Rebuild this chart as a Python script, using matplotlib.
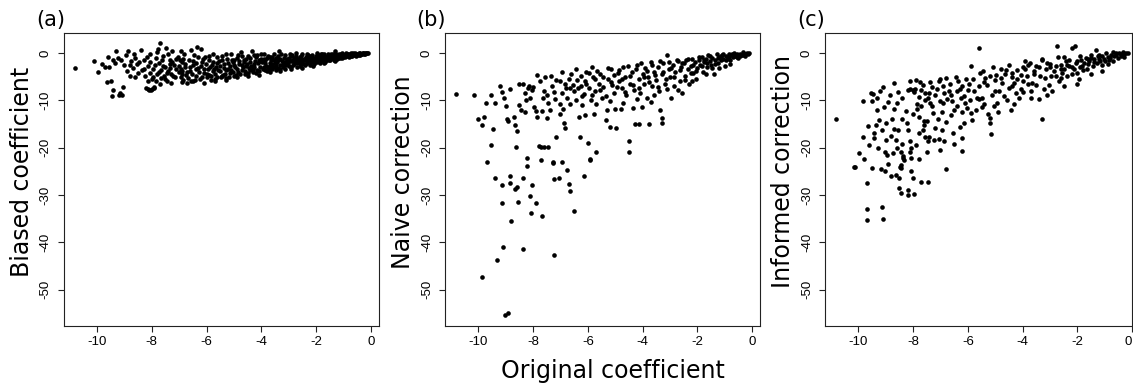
import numpy as np
import matplotlib
matplotlib.use("Agg")
import matplotlib.pyplot as plt

plt.rcParams["axes.unicode_minus"] = False

# (original coefficient, biased coefficient)
biased = np.array([
    (-10.8, -3.2), (-10.1, -1.8), (-9.95, -4.1), (-9.8, -2.3), (-9.7, -2.9), (-9.65, -6.2),
    (-9.5, -6.0), (-9.45, -9.2), (-9.4, -7.8), (-9.3, 0.4), (-9.25, -1.1), (-9.2, -9.0),
    (-9.15, -8.4), (-9.1, -8.9), (-9.05, -7.2), (-9.0, -2.5), (-8.95, -0.5), (-8.9, -3.8),
    (-8.85, 0.3), (-8.8, -4.8), (-8.75, -1.7), (-8.7, -3.2), (-8.65, -0.2), (-8.6, -5.2),
    (-8.55, -2.4), (-8.5, -4.3), (-9.6, -0.8), (-9.4, -1.6), (-8.4, 0.6), (-8.35, -3.6),
    (-8.3, -1.5), (-8.25, -4.9), (-8.2, -7.4), (-8.15, -2.8), (-8.1, -7.8), (-8.05, -0.3),
    (-8.0, -5.6), (-7.98, -7.6), (-7.95, -3.3), (-7.9, -7.2), (-7.85, -1.0), (-7.8, -4.4),
    (-7.78, 0.8), (-7.75, -2.2), (-7.7, 2.0), (-7.68, -5.3), (-7.65, -3.6), (-7.6, -0.6),
    (-7.55, -4.8), (-7.5, -2.9), (-7.48, 1.0), (-7.45, -6.0), (-7.4, -3.9), (-7.35, -1.5),
    (-7.3, -4.5), (-7.25, 0.3), (-7.2, -2.5), (-7.15, -5.2), (-7.1, -3.4), (-7.05, -0.8),
    (-7.0, -4.1), (-6.95, 0.4), (-6.9, -2.0), (-6.85, -5.7), (-6.8, -3.0), (-6.75, -4.6),
    (-6.7, -6.3), (-6.65, -1.4), (-6.6, -3.8), (-6.55, -6.0), (-6.5, -2.6), (-6.45, -0.4),
    (-6.4, -4.9), (-6.35, 1.2), (-6.3, -3.2), (-6.25, -5.5), (-6.2, 0.8), (-6.15, -2.0),
    (-6.1, -4.2), (-6.05, -0.9), (-6.0, -5.0), (-6.95, -3.4), (-7.25, -2.0), (-7.6, -2.7),
    (-8.05, -4.2), (-7.85, -5.9), (-7.35, -3.1), (-6.85, -1.2), (-6.4, -3.5), (-6.9, -4.4),
    (-7.45, -4.2), (-7.95, -5.0), (-8.12, -7.7), (-8.02, -7.9), (-7.92, -7.5),
    (-5.95, -3.4), (-5.9, -1.5), (-5.85, -5.8), (-5.8, -2.6), (-5.75, -0.3), (-5.7, -4.4),
    (-5.65, -3.0), (-5.6, -5.2), (-5.55, -1.8), (-5.5, -3.8), (-5.45, -0.6), (-5.4, -4.7),
    (-5.35, -2.4), (-5.3, -5.4), (-5.25, -1.2), (-5.2, -3.3), (-5.15, -4.2), (-5.1, -0.2),
    (-5.05, -2.0), (-5.0, -4.8), (-4.95, -3.0), (-4.9, -1.0), (-4.85, -4.0), (-4.8, -2.3),
    (-4.75, 0.1), (-4.7, -3.6), (-4.65, -1.5), (-4.6, -4.5), (-4.55, -2.8), (-4.5, -0.7),
    (-4.45, -3.2), (-4.4, -1.9), (-4.35, 0.3), (-4.3, -4.1), (-4.25, -2.4), (-4.2, -0.9),
    (-4.15, -3.6), (-4.1, -1.5), (-4.05, -2.9), (-4.0, -0.2), (-5.9, -4.6), (-5.6, -2.2),
    (-5.3, -3.6), (-5.0, -1.4), (-4.7, -2.6), (-4.4, -3.7), (-4.15, -0.4), (-5.75, -3.9),
    (-5.45, -4.9), (-5.15, -2.8), (-4.85, -0.5), (-4.55, -1.2), (-4.25, -3.0), (-4.05, -1.8),
    (-3.95, -3.3), (-3.9, -1.2), (-3.85, -2.2), (-3.8, -3.9), (-3.75, -0.6), (-3.7, -2.7),
    (-3.65, -1.6), (-3.6, -3.5), (-3.55, -0.2), (-3.5, -2.1), (-3.45, -1.1), (-3.4, -3.2),
    (-3.35, 0.4), (-3.3, -2.5), (-3.25, -1.7), (-3.2, -3.0), (-3.15, -0.5), (-3.1, -2.0),
    (-3.05, -1.2), (-3.0, -2.8), (-2.95, -0.3), (-2.9, -1.8), (-2.85, -2.6), (-2.8, -1.0),
    (-2.75, -0.1), (-2.7, -2.2), (-2.65, -1.5), (-2.6, -2.7), (-2.55, -0.6), (-2.5, -1.9),
    (-2.45, -1.2), (-2.4, -2.3), (-2.35, -0.2), (-2.3, -1.6), (-2.25, -0.9), (-2.2, -2.0),
    (-2.15, -0.4), (-2.1, -1.4), (-2.05, -1.9), (-2.0, -0.7), (-3.9, -2.9), (-3.7, -0.9),
    (-3.5, -3.0), (-3.3, -1.2), (-3.1, -2.6), (-2.9, -0.7), (-2.7, -1.3), (-2.5, -2.4),
    (-2.3, -0.5), (-2.1, -1.0), (-3.85, -1.5), (-3.6, -2.4), (-3.4, -0.6), (-3.2, -1.9),
    (-3.0, -1.5), (-2.8, -2.0), (-2.6, -0.9), (-2.4, -1.5), (-2.2, -1.2), (-3.75, -3.0),
    (-3.45, -2.5), (-3.15, -2.2), (-2.85, -1.4), (-2.55, -1.6), (-2.25, -1.8),
    (-1.95, -1.3), (-1.9, -0.4), (-1.85, -1.8), (-1.8, -0.9), (-1.75, -1.5), (-1.7, -0.2),
    (-1.65, -1.1), (-1.6, -1.6), (-1.55, -0.6), (-1.5, -1.2), (-1.45, -0.3), (-1.4, -0.9),
    (-1.35, -1.4), (-1.3, 0.5), (-1.25, -0.7), (-1.2, -1.1), (-1.15, -0.2), (-1.1, -0.8),
    (-1.05, -1.0), (-1.0, -0.4), (-0.95, -0.7), (-0.9, -0.1), (-0.85, -0.6), (-0.8, -0.9),
    (-0.75, -0.3), (-0.7, -0.5), (-0.65, 0.0), (-0.6, -0.4), (-0.55, -0.6), (-0.5, -0.2),
    (-0.45, -0.4), (-0.4, 0.0), (-0.35, -0.3), (-0.3, -0.1), (-0.25, -0.2), (-0.2, 0.0),
    (-0.15, -0.1), (-0.1, 0.0), (-1.92, -0.8), (-1.82, -1.2), (-1.72, -0.6), (-1.62, -0.9),
    (-1.52, -1.5), (-1.42, -0.6), (-1.32, -1.0), (-1.22, -0.4), (-1.12, -0.5), (-1.02, -0.7),
    (-0.92, -0.4), (-0.82, -0.2), (-0.72, -0.7), (-0.62, -0.2), (-0.52, -0.4), (-0.42, -0.2),
    (-1.97, -0.1), (-1.87, -2.1), (-1.77, -0.3), (-1.67, -1.9), (-1.57, -1.0), (-1.47, -0.8),
    (-1.37, -0.2), (-1.27, -1.3), (-1.17, -0.9), (-1.07, -0.1),
    (-6.98, -1.6), (-6.92, -5.1), (-6.88, -3.8), (-6.82, -0.2), (-6.78, -2.4), (-6.72, -4.0),
    (-6.68, -5.3), (-6.62, -2.9), (-6.58, 0.6), (-6.52, -4.4), (-6.48, -1.8), (-6.42, -5.8),
    (-6.38, -2.2), (-6.32, -0.8), (-6.28, -4.0), (-6.22, -2.7), (-6.18, -5.0), (-6.12, -1.2),
    (-6.08, -3.5), (-6.02, -2.3), (-5.98, -4.5), (-5.92, -0.6), (-5.88, -3.0), (-5.82, -4.9),
    (-5.78, -1.9), (-5.72, -3.3), (-5.68, -5.6), (-5.62, -0.9), (-5.58, -3.6), (-5.52, -2.7),
    (-5.48, -5.1), (-5.42, -1.4), (-5.38, -3.1), (-5.32, -4.4), (-5.28, -0.2), (-5.22, -2.2),
    (-5.18, -5.0), (-5.12, -3.7), (-5.08, -1.6), (-5.02, -4.1), (-4.98, -2.5), (-4.92, -4.6),
    (-4.88, -3.4), (-4.82, -1.7), (-4.78, -4.4), (-4.72, -0.6), (-4.68, -3.0), (-4.62, -2.0),
    (-4.58, -3.9), (-4.52, -2.4), (-4.48, -4.2), (-4.42, -1.1), (-4.38, -2.7), (-4.32, -3.4),
    (-4.28, -0.5), (-4.22, -1.8), (-4.18, -4.3), (-4.12, -2.2), (-4.08, -3.9), (-4.02, -1.2),
    (-3.98, -2.0), (-3.92, -0.2), (-3.88, -3.6), (-3.82, -2.7), (-3.78, -1.0), (-3.72, -3.4),
    (-3.68, -2.1), (-3.62, -0.9), (-3.58, -2.9), (-3.52, -1.5), (-3.48, -3.7), (-3.42, -2.0),
    (-3.38, -1.4), (-3.32, -3.4), (-3.28, -0.3), (-3.22, -2.5), (-3.18, -1.1), (-3.12, -3.3),
    (-3.08, -1.6), (-3.02, -2.2), (-2.98, -1.1), (-2.92, -2.9), (-2.88, -0.5), (-2.82, -2.4),
    (-2.78, -1.6), (-2.72, -0.7), (-2.68, -2.9), (-2.62, -1.2), (-2.58, -2.1), (-2.52, -0.3),
    (-2.48, -1.5), (-2.42, -2.6), (-2.38, -0.9), (-2.32, -2.1), (-2.28, -1.3), (-2.22, -2.5),
    (-2.18, -0.7), (-2.12, -1.7), (-2.08, -2.3), (-2.02, -1.1), (-1.98, -1.9), (-1.93, -0.6),
    (-1.88, -1.4), (-1.83, -0.3), (-1.78, -1.2), (-1.73, -1.8), (-1.68, -0.8), (-1.63, -1.3),
    (-1.58, -0.3), (-1.53, -1.0), (-1.48, -1.6), (-1.43, -1.1), (-1.38, -0.5), (-1.33, -0.9),
    (-1.28, -0.2), (-1.23, -1.2), (-1.18, -0.6), (-1.13, -1.0), (-1.08, -0.3), (-1.03, -0.9),
    (-0.98, -0.5), (-0.93, -0.9), (-0.88, -0.3), (-0.83, -0.7), (-0.78, -0.5), (-0.73, -0.1),
    (-0.68, -0.6), (-0.63, -0.3), (-0.58, -0.1), (-0.53, -0.5), (-0.48, -0.3), (-0.43, -0.1),
    (-0.38, -0.4), (-0.33, -0.2), (-0.28, 0.0), (-0.23, -0.3), (-0.18, -0.1),
    (-8.28, -3.5), (-8.18, -0.8), (-8.08, -2.0), (-7.88, -2.6), (-7.82, 0.2), (-7.72, -4.0),
    (-7.62, -1.5), (-7.52, -5.5), (-7.42, -0.2), (-7.32, -2.3), (-7.22, -4.8), (-7.12, -1.2),
    (-7.02, -2.8), (-8.45, -2.0), (-8.6, -1.0), (-8.78, -2.6), (-9.12, -1.5), (-9.35, -2.2),
    (-9.55, -3.0), (-8.15, -6.0), (-7.7, -6.5), (-7.3, -6.3), (-6.9, -6.2), (-6.5, -5.9),
    (-6.1, -6.3), (-5.7, -6.0), (-5.3, -5.7), (-4.9, -5.2), (-4.5, -4.8), (-4.1, -4.6),
    (-3.7, -4.1), (-3.3, -3.9), (-2.9, -3.5), (-2.5, -3.1), (-2.1, -2.7), (-1.7, -2.2),
    (-1.3, -1.7),
])

# (original coefficient, naive correction)
naive = np.array([
    (-10.82, -8.7), (-10.16, -8.9), (-10.0, -13.9), (-9.78, -13.5), (-9.85, -15.2), (-9.7, -10.6),
    (-9.55, -9.0), (-9.4, -10.6), (-9.54, -19.5), (-9.69, -23.0), (-9.45, -16.0), (-9.2, -7.0),
    (-9.15, -8.3), (-9.05, -9.6), (-8.95, -13.9), (-8.9, -14.3), (-9.0, -11.2), (-8.85, -7.7),
    (-8.7, -13.5), (-8.65, -15.2), (-8.6, -16.5), (-8.64, -19.9), (-8.5, -11.0), (-8.45, -12.0),
    (-8.5, -6.5), (-8.35, -6.5), (-8.3, -8.5), (-8.25, -10.0), (-8.2, -7.5), (-8.15, -7.0),
    (-8.05, -7.8), (-8.0, -7.2), (-7.95, -11.5), (-7.9, -12.3), (-7.85, -13.5), (-7.8, -19.6),
    (-7.7, -19.8), (-7.6, -19.9), (-7.68, -12.2), (-7.85, -4.6), (-7.75, -6.0), (-7.6, -8.0),
    (-7.5, -9.0), (-7.45, -10.5), (-7.44, -19.9), (-7.37, -12.0), (-7.3, -7.0), (-7.25, -8.2),
    (-7.15, -17.8), (-7.03, -10.7), (-7.0, -6.0), (-6.95, -8.5), (-6.89, -11.8), (-6.86, -14.8),
    (-6.83, -15.8), (-6.8, -7.5), (-6.75, -9.5), (-6.7, -5.5), (-6.6, -4.5), (-6.55, -6.8),
    (-6.5, -8.0), (-6.45, -10.0), (-6.4, -5.8), (-6.34, -13.5), (-6.3, -17.7), (-6.25, -7.0),
    (-6.2, -9.2), (-6.12, -13.2), (-6.1, -6.0), (-6.05, -4.0), (-6.0, -19.0), (-5.95, -7.5),
    (-5.9, -10.0), (-5.85, -3.0), (-5.8, -5.2), (-5.79, -13.0), (-5.75, -8.0), (-5.69, -20.9),
    (-5.6, -6.5), (-5.55, -4.5), (-5.5, -9.5), (-5.45, -7.2), (-5.34, -14.1), (-5.3, -12.0),
    (-5.25, -5.5), (-5.2, -15.6), (-5.15, -3.5), (-5.1, -6.8), (-5.05, -8.5), (-5.02, -11.8),
    (-4.96, -15.8), (-4.9, -4.2), (-4.85, -6.0), (-4.8, -11.8), (-4.75, -7.5), (-4.7, -3.0),
    (-4.65, -5.0), (-4.6, -9.0), (-4.51, -18.7), (-4.51, -20.9), (-4.45, -6.5), (-4.4, -4.0),
    (-4.36, -11.6), (-4.3, -7.8), (-4.26, -15.1), (-4.2, -2.5), (-4.15, -5.5), (-4.14, -15.0),
    (-4.1, -8.5), (-4.04, -11.4), (-4.0, -4.5), (-3.95, -6.5), (-3.9, -3.2), (-3.85, -9.5),
    (-3.8, -5.0), (-3.77, -15.0), (-3.71, -10.4), (-3.7, -2.0), (-3.65, -7.0), (-3.6, -4.0),
    (-3.5, -5.8), (-3.45, -3.0), (-3.4, -8.0), (-3.37, -12.0), (-3.3, -4.5), (-3.28, -13.7),
    (-3.28, -14.9), (-3.25, -2.2), (-3.2, -6.5), (-3.1, -0.5), (-3.05, -3.5), (-3.0, -5.0),
    (-2.95, -9.5), (-2.9, -2.5), (-2.85, -7.0), (-2.8, -4.0), (-2.7, -1.8), (-2.65, -6.0),
    (-2.6, -3.0), (-2.55, -8.5), (-2.5, -2.2), (-2.45, -4.8), (-2.4, -1.5), (-2.35, -3.5),
    (-2.3, -6.5), (-2.25, -2.8), (-2.2, -1.2), (-2.15, -4.2), (-2.1, -2.0), (-2.05, -5.5),
    (-2.0, -3.2), (-1.95, -1.5), (-1.9, -2.5), (-1.85, -0.8), (-1.8, -4.0), (-1.75, -2.0),
    (-1.7, -1.2), (-1.65, -3.0), (-1.6, -0.5), (-1.55, -1.8), (-1.5, -2.5), (-1.45, -1.0),
    (-1.4, -4.5), (-1.35, -1.5), (-1.3, -0.3), (-1.25, -2.2), (-1.2, -0.9), (-1.15, -1.6),
    (-1.1, -0.4), (-1.05, -1.2), (-1.0, -2.8), (-0.95, -0.6), (-0.9, -1.0), (-0.85, -0.2),
    (-0.8, -1.4), (-0.75, -0.5), (-0.7, -0.9), (-0.65, -0.1), (-0.6, -0.7), (-0.55, -0.3),
    (-0.5, -1.1), (-0.45, -0.2), (-0.4, -0.5), (-0.35, 0.1), (-0.3, -0.3), (-0.25, -0.6),
    (-0.2, 0.0), (-0.15, -0.2), (-0.1, -0.1),
    (-6.45, -3.5), (-6.35, -7.5), (-6.25, -4.8), (-6.15, -8.6), (-6.05, -6.5), (-5.95, -4.2),
    (-5.85, -8.8), (-5.75, -5.6), (-5.65, -3.8), (-5.55, -7.8), (-5.45, -5.0), (-5.35, -9.2),
    (-5.25, -3.2), (-5.15, -6.2), (-5.05, -4.6), (-4.95, -7.2), (-4.85, -3.6), (-4.75, -5.6),
    (-4.65, -8.2), (-4.55, -2.8), (-4.45, -4.9), (-4.35, -6.8), (-4.25, -3.4), (-4.15, -7.5),
    (-4.05, -2.2), (-3.95, -5.0), (-3.85, -3.8), (-3.75, -6.2), (-3.65, -2.6), (-3.55, -4.6),
    (-3.45, -7.2), (-3.35, -1.8), (-3.25, -4.0), (-3.15, -5.6), (-3.05, -2.0), (-2.95, -3.2),
    (-2.85, -5.2), (-2.75, -1.4), (-2.65, -3.6), (-2.55, -2.2), (-2.45, -5.8), (-2.35, -1.2),
    (-2.25, -4.2), (-2.15, -2.6), (-2.05, -3.8), (-1.95, -0.8), (-1.85, -2.8), (-1.75, -1.4),
    (-1.65, -2.2), (-1.55, -0.6), (-1.45, -3.2), (-1.35, -2.3), (-1.25, -1.0), (-1.15, -0.6),
    (-1.05, -0.3), (-0.95, -1.4), (-0.85, -0.9), (-0.75, -0.2), (-0.65, -0.6), (-0.55, -0.8),
    (-0.45, -0.6), (-0.35, -0.4), (-0.25, -0.2),
    (-7.55, -5.2), (-7.35, -4.8), (-7.15, -5.8), (-6.95, -4.0), (-6.85, -6.5), (-6.65, -7.5),
    (-7.65, -9.5), (-7.2, -9.8), (-8.1, -9.5), (-8.3, -12.5), (-7.5, -13.8), (-7.0, -13.0),
    (-6.65, -10.8), (-6.2, -11.0), (-5.7, -10.8), (-5.2, -10.2), (-4.7, -10.5), (-4.2, -9.8),
    (-3.6, -8.8), (-3.1, -7.6), (-2.7, -7.8), (-2.2, -6.0), (-1.7, -4.5), (-1.2, -3.2),
    (-0.8, -2.4),
    (-9.02, -55.3), (-8.9, -54.9), (-9.85, -47.3), (-9.3, -43.8), (-9.08, -41.1), (-8.38, -41.5),
    (-7.22, -42.8), (-8.82, -35.6), (-7.66, -34.5), (-8.06, -33.8), (-6.52, -33.3), (-9.12, -31.8),
    (-8.55, -31.4), (-7.91, -31.8), (-8.11, -30.2), (-6.64, -29.1), (-8.66, -28.8), (-8.6, -28.3),
    (-8.03, -27.9), (-9.13, -27.9), (-8.83, -27.4), (-6.69, -27.7), (-9.4, -26.4), (-8.35, -26.4),
    (-7.22, -26.7), (-7.05, -26.4), (-6.75, -24.8), (-6.15, -26.1), (-8.83, -26.1), (-8.23, -23.8),
    (-7.27, -23.0), (-6.95, -23.0), (-7.72, -22.6), (-5.92, -22.7), (-8.21, -22.2), (-7.28, -23.2),
    (-5.91, -22.5),
])

# (original coefficient, informed correction)
informed = np.array([
    (-10.15, -24.2), (-9.51, -24.3), (-9.17, -24.6), (-9.02, -25.0), (-9.67, -27.5), (-8.82, -26.1),
    (-8.63, -25.8), (-8.53, -26.5), (-8.45, -24.3), (-8.33, -22.7), (-7.8, -22.5), (-8.07, -24.9),
    (-8.01, -26.5), (-7.7, -27.3), (-7.44, -27.3), (-6.8, -24.5), (-8.5, -28.5), (-8.45, -29.6),
    (-8.17, -28.9), (-8.19, -30.1), (-7.97, -29.8), (-9.69, -32.9), (-9.15, -32.5), (-9.69, -35.3),
    (-9.11, -35.1),
    (-10.82, -13.9), (-9.82, -10.2), (-9.51, -10.1), (-9.54, -8.5), (-9.45, -8.7), (-9.11, -7.3),
    (-9.21, -8.1), (-9.33, -9.5), (-9.66, -15.4), (-9.84, -17.8), (-9.96, -21.1), (-10.12, -24.1),
    (-9.41, -17.0), (-9.41, -17.9), (-9.27, -20.1), (-9.26, -14.1), (-9.35, -15.3), (-9.13, -16.2),
    (-8.99, -14.9), (-8.9, -10.4), (-8.82, -17.5), (-8.78, -13.9), (-8.68, -16.1), (-8.56, -16.2),
    (-8.58, -10.6), (-8.63, -18.5), (-9.02, -20.9), (-8.94, -21.5), (-8.74, -21.1), (-8.6, -20.1),
    (-8.44, -21.0), (-8.38, -22.2), (-8.35, -21.7), (-8.45, -23.6), (-8.47, -24.2), (-8.08, -22.3),
    (-8.11, -20.9), (-8.07, -20.1), (-8.11, -18.7), (-8.25, -12.2), (-8.21, -14.9), (-8.19, -16.2),
    (-8.11, -6.0), (-8.11, -7.7), (-8.0, -7.9), (-7.92, -7.6), (-7.84, -10.9), (-7.8, -9.3),
    (-7.64, -16.2), (-7.59, -14.4), (-7.5, -14.3), (-7.56, -17.8), (-7.44, -18.7), (-7.41, -17.8),
    (-7.78, -13.6), (-7.7, -11.3), (-7.64, -6.7), (-7.58, -8.5), (-7.45, -9.5), (-7.37, -6.1),
    (-7.41, -8.5), (-7.31, -11.3), (-7.28, -12.7), (-7.25, -18.3), (-7.07, -6.0), (-7.07, -18.1),
    (-7.1, -13.9), (-6.95, -16.2), (-6.89, -18.7), (-7.13, -7.7), (-7.03, -10.2), (-6.89, -8.5),
    (-6.8, -5.3), (-6.77, -9.7), (-6.64, -6.5), (-6.58, -10.2), (-6.54, -16.9), (-6.5, -19.2),
    (-6.5, -12.0), (-6.4, -11.3), (-6.4, -8.1), (-6.3, -7.6), (-6.21, -7.0), (-6.15, -9.2),
    (-6.15, -14.8), (-6.21, -20.8), (-6.08, -5.6), (-6.03, -11.6), (-5.97, -6.5), (-5.91, -9.9),
    (-5.85, -14.1), (-5.79, -8.1), (-5.67, -9.5), (-5.7, -12.0), (-5.58, 1.1), (-5.48, -9.5),
    (-5.45, -3.9), (-5.54, -4.2), (-5.36, -5.3), (-5.3, -6.7), (-5.27, -13.0), (-5.2, -13.7),
    (-5.18, -14.8), (-5.14, -17.1), (-5.12, -8.8), (-5.05, -11.3), (-4.93, -10.6), (-4.96, -4.6),
    (-4.87, -8.1), (-4.75, -6.3), (-4.69, -9.2), (-4.66, -4.4), (-4.57, -9.9), (-4.51, -7.4),
    (-4.42, -12.1), (-4.38, -4.2), (-4.32, -6.3), (-4.26, -8.5), (-4.2, -3.7), (-4.14, -9.5),
    (-4.08, -7.7), (-4.05, -4.6), (-3.98, -6.0), (-3.93, -3.4), (-3.83, -4.9), (-3.74, -2.1),
    (-3.71, -9.5), (-3.65, -6.3), (-3.59, -3.9), (-3.53, -2.8), (-3.41, -9.7), (-3.37, -4.9),
    (-3.28, -13.9), (-3.22, -7.7), (-3.16, -3.5), (-3.1, -2.1), (-3.04, -6.7), (-2.98, -4.9),
    (-2.92, -8.1), (-2.86, -3.9), (-2.8, -2.8), (-2.74, 1.5), (-2.67, -6.0), (-2.61, -2.5),
    (-2.55, -4.2), (-2.49, -3.5), (-2.43, -1.8), (-2.37, -4.9), (-2.31, -2.8), (-2.19, 1.1),
    (-2.1, 1.4), (-2.12, -3.4), (-2.06, -2.1), (-2.0, -4.2), (-1.94, -5.6), (-1.88, -1.4),
    (-1.82, -2.8), (-1.76, -2.1), (-1.7, -1.1), (-1.64, -3.5), (-1.58, -1.8), (-1.51, -0.4),
    (-1.45, -2.7), (-1.39, -1.3), (-1.33, 0.6), (-1.29, -2.1), (-1.25, -0.7), (-1.17, -1.8),
    (-1.11, -3.9), (-1.09, -0.6), (-1.03, -1.3), (-0.96, -0.1), (-0.9, -0.8), (-0.84, -1.5),
    (-0.78, -0.4), (-0.72, 0.1), (-0.66, -0.7), (-0.6, -0.1), (-0.54, -1.1), (-0.48, 0.0),
    (-0.42, -0.6), (-0.35, 0.1), (-0.29, -0.3), (-0.23, -0.1), (-0.17, 0.0),
    (-8.2, -7.9), (-7.95, -8.2), (-7.9, -5.8), (-7.75, -6.2), (-7.7, -7.8), (-7.55, -9.9),
    (-7.3, -7.3), (-7.2, -8.8), (-7.0, -5.6), (-6.9, -7.0), (-6.7, -8.0), (-6.6, -9.0),
    (-6.45, -5.0), (-6.35, -6.0), (-6.25, -9.6), (-6.1, -10.5), (-7.85, -11.8), (-7.4, -10.5),
    (-6.95, -12.5), (-8.4, -9.6), (-8.55, -8.3), (-8.7, -6.3), (-8.85, -8.8), (-9.05, -11.4),
    (-8.0, -13.0), (-7.6, -15.2), (-7.2, -15.8), (-6.8, -14.5), (-6.2, -12.5), (-5.6, -7.0),
    (-5.4, -10.8), (-5.0, -5.8), (-4.8, -3.5), (-4.4, -5.2), (-4.0, -8.2), (-3.5, -6.8),
    (-3.0, -3.0), (-2.6, -5.3), (-2.2, -4.4), (-1.9, -3.0), (-1.6, -2.4), (-1.2, -1.2),
    (-0.9, -2.3), (-2.5, -0.8), (-3.3, -1.5), (-3.8, -2.6),
    (-6.0, -7.8), (-5.8, -5.6), (-5.6, -9.8), (-5.4, -6.2), (-5.2, -4.8), (-5.0, -8.0),
    (-4.8, -5.3), (-4.6, -3.6), (-4.4, -7.0), (-4.2, -5.5), (-4.0, -3.0), (-3.8, -6.5),
    (-3.6, -4.5), (-3.4, -3.0), (-3.2, -5.3), (-3.0, -2.4), (-2.8, -4.8), (-2.6, -3.4),
    (-2.4, -2.6), (-2.2, -3.0), (-2.0, -1.8), (-1.8, -3.6), (-1.6, -1.2), (-1.4, -2.0),
    (-1.2, -0.4), (-1.0, -1.8), (-0.8, -1.0), (-0.6, -0.5), (-0.4, -0.2), (-0.3, -0.8),
    (-5.9, -2.8), (-5.1, -3.0), (-4.5, -2.5), (-3.9, -1.8), (-3.3, -1.2), (-2.7, -0.8),
    (-2.3, -1.5), (-1.9, -0.6), (-1.5, -1.0), (-1.1, -2.5), (-0.7, -1.8), (-6.9, -10.5),
    (-6.6, -13.2), (-6.3, -15.6), (-5.9, -12.8), (-5.5, -11.5), (-4.9, -12.5), (-4.3, -10.8),
    (-3.7, -8.0), (-3.1, -9.0), (-2.5, -7.0), (-2.0, -6.5), (-1.5, -4.5), (-7.9, -19.5),
    (-7.5, -21.0), (-7.8, -17.0), (-8.4, -19.2), (-9.0, -18.5), (-9.6, -19.5), (-9.8, -22.5),
    (-8.9, -23.5), (-9.3, -12.0), (-8.7, -11.8), (-8.4, -14.0), (-7.0, -20.5), (-6.2, -18.0),
])

panels = [biased, naive, informed]
ylabels = ["Biased coefficient", "Naive correction", "Informed correction"]
tags = ["(a)", "(b)", "(c)"]
xticks = [-10, -8, -6, -4, -2, 0]
yticks = [0, -10, -20, -30, -40, -50]

W, H = 1133, 388
fig = plt.figure(figsize=(W / 100, H / 100), dpi=100)

# pixel geometry of the three boxes (left, right)
boxes = [(64.1, 379.1), (445.4, 760.4), (825.4, 1132.3)]
xlims = [(-11.2, 0.3), (-11.2, 0.3), (-11.2, 0.0)]
top, bottom = 33, 326
label_x = [22, 403, 783]
tag_x = [51, 431, 811]

for i, data in enumerate(panels):
    l, r = boxes[i]
    ax = fig.add_axes([l / W, 1 - bottom / H, (r - l) / W, (bottom - top) / H])
    ax.scatter(data[:, 0], data[:, 1], s=11, c="black", linewidths=0)
    ax.set_xlim(*xlims[i])
    ax.set_ylim(-57.7, 4.2)
    ax.set_xticks(xticks)
    ax.set_yticks(yticks)
    xl = ax.set_xticklabels([str(t) for t in xticks], fontfamily="Liberation Sans", fontsize=9.5)
    if i == 2:
        xl[-1].set_horizontalalignment("right")
    ax.set_yticklabels([str(t) for t in yticks], fontfamily="Liberation Sans", fontsize=9.5,
                       rotation=90, va="center")
    ax.tick_params(direction="out", length=4, width=0.8, color="#222222")
    ax.tick_params(axis="x", pad=3)
    ax.tick_params(axis="y", pad=5)
    for sp in ax.spines.values():
        sp.set_color("#222222")
        sp.set_linewidth(0.8)
    fig.text(label_x[i] / W, 1 - 172 / H, ylabels[i], rotation=90, ha="center", va="center",
             fontsize=17, fontfamily="DejaVu Sans")
    fig.text(tag_x[i] / W, 1 - 20 / H, tags[i], ha="center", va="center",
             fontsize=15, fontfamily="DejaVu Sans")

fig.text(613 / W, 1 - 371 / H, "Original coefficient", ha="center", va="center",
         fontsize=17, fontfamily="DejaVu Sans")

fig.savefig("out.png", dpi=100)
